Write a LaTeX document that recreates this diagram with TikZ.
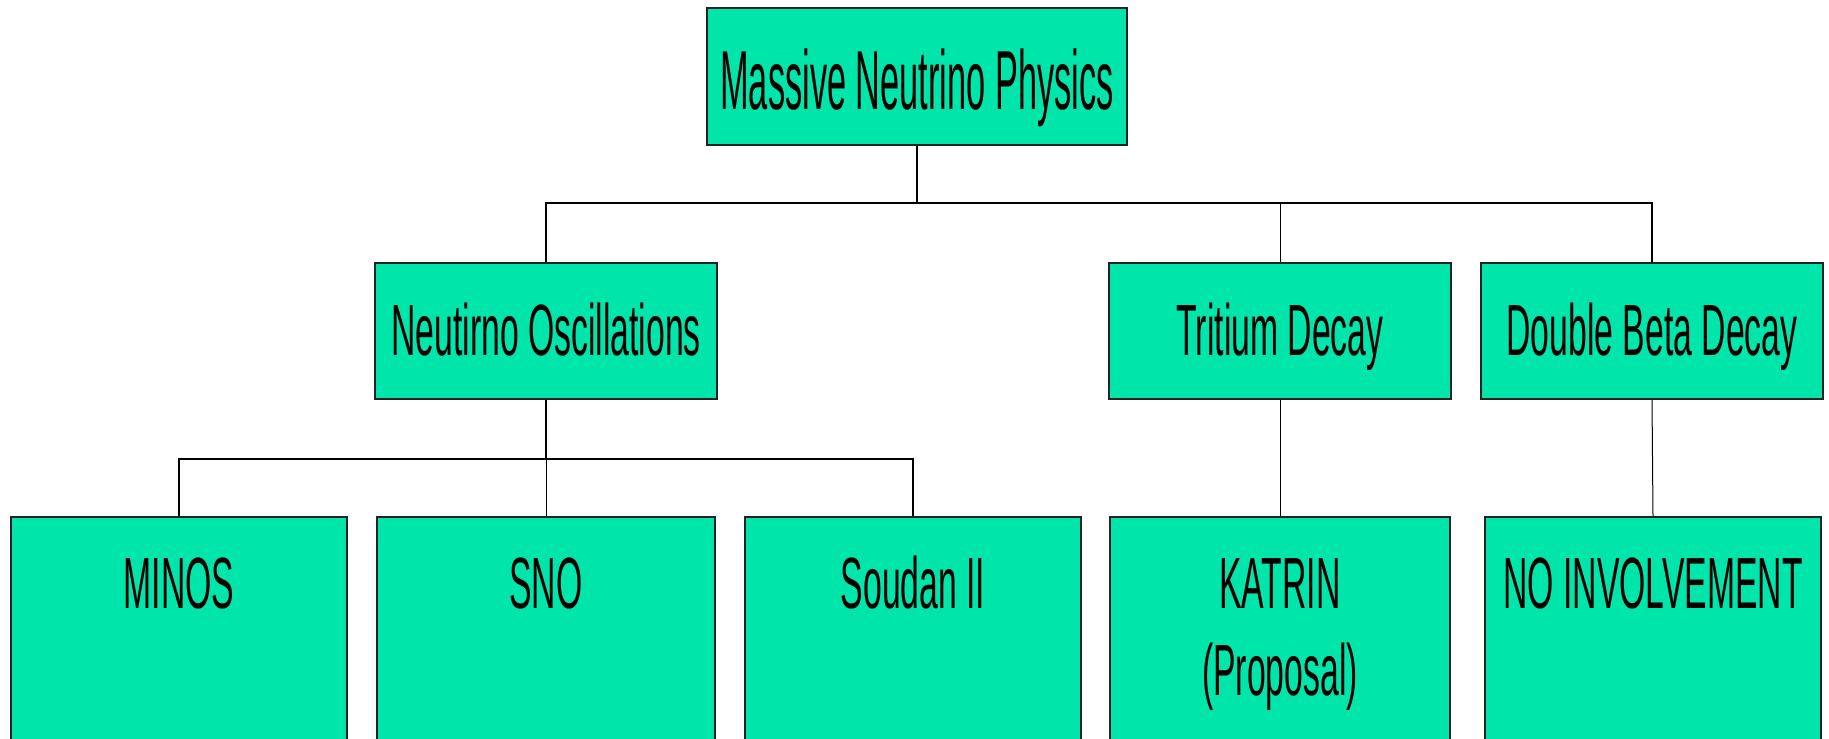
\documentclass[tikz,border=0pt]{standalone}
\usepackage{fontspec}
\setmainfont{Liberation Sans}
\newfontfamily\topfont[FakeStretch=0.41]{Liberation Sans}
\newfontfamily\boxfont[FakeStretch=0.465]{Liberation Sans}
\definecolor{mint}{HTML}{00E6AA}
\definecolor{boxline}{HTML}{222222}
\begin{document}
\begin{tikzpicture}[x=1pt,y=-1pt,
  box/.style={rectangle,draw=boxline,fill=mint,line width=2pt,inner sep=0pt},
  lvltop/.style={box,minimum width=420pt,minimum height=137pt,text height=70pt,text depth=5pt,font=\topfont\fontsize{83.8}{90}\selectfont},
  lvlmid/.style={box,minimum width=342pt,minimum height=136pt,text height=52pt,text depth=4pt,font=\boxfont\fontsize{72.6}{80}\selectfont},
  lvlbot/.style={box,minimum height=283pt},
  bottext/.style={anchor=base,inner sep=0pt,font=\boxfont\fontsize{72.6}{80}\selectfont},
  conn/.style={draw=black,line width=1.3pt},
  thinconn/.style={draw=black,line width=1pt}]
\clip (0,0) rectangle (1829,739);
\fill[white] (0,0) rectangle (1829,739);

% top
\node[lvltop] (top) at (917,76.5) {Massive Neutrino Physics};

% middle row
\node[lvlmid] (osc) at (546,331) {Neutirno Oscillations};
\node[lvlmid] (tri) at (1280,331) {Tritium Decay};
\node[lvlmid] (dbd) at (1652,331) {Double Beta Decay};

% bottom row
\node[lvlbot,minimum width=336pt] (minos) at (179,658.5) {};
\node[lvlbot,minimum width=338pt] (sno) at (546,658.5) {};
\node[lvlbot,minimum width=336pt] (soudan) at (913,658.5) {};
\node[lvlbot,minimum width=340pt] (katrin) at (1280,658.5) {};
\node[lvlbot,minimum width=336pt] (noinv) at (1653,658.5) {};

\node[bottext] (tminos) at ([yshift=-92pt]minos.north) {MINOS};
\node[bottext] (tsno) at ([yshift=-92pt]sno.north) {SNO};
\node[bottext] (tsoudan) at ([yshift=-92pt]soudan.north) {Soudan II};
\node[bottext] (tkatrin) at ([yshift=-92pt]katrin.north) {KATRIN};
\node[bottext] (tprop) at ([yshift=-179.7pt]katrin.north) {(Proposal)};
\node[bottext] (tnoinv) at ([yshift=-92pt]noinv.north) {NO INVOLVEMENT};

% connectors
\coordinate (bus1) at (917,203);
\coordinate (bus2) at (546,459);
\draw[conn] (top.south) -- (bus1);
\draw[conn] (osc.north) -- (osc.north |- bus1) -- (dbd.north |- bus1) -- (dbd.north);
\draw[thinconn] (tri.north) -- (tri.north |- bus1);
\draw[conn] (osc.south) -- (bus2);
\draw[conn] (minos.north) -- (minos.north |- bus2) -- (soudan.north |- bus2) -- (soudan.north);
\draw[thinconn] (sno.north) -- (bus2);
\draw[thinconn] (tri.south) -- (katrin.north);
\draw[thinconn] (dbd.south) -- (noinv.north);
\end{tikzpicture}
\end{document}
